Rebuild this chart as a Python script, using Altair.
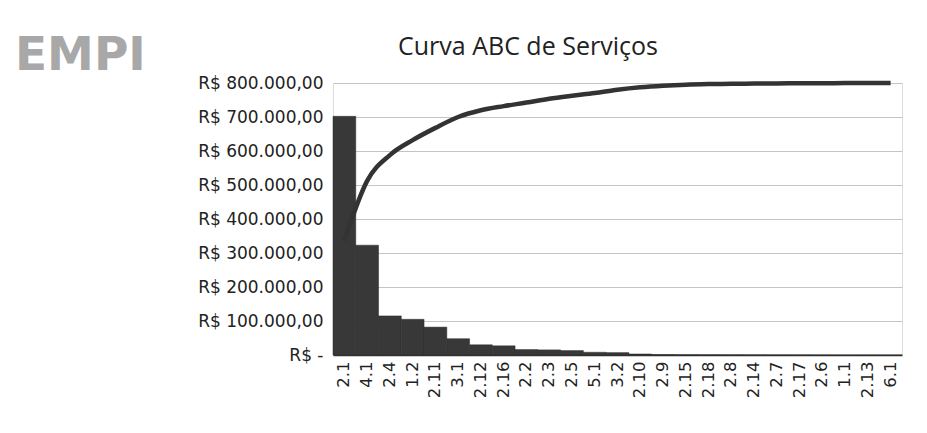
import altair as alt
import pandas as pd

categories = ["2.1", "4.1", "2.4", "1.2", "2.11", "3.1", "2.12", "2.16", "2.2", "2.3",
              "2.5", "5.1", "3.2", "2.10", "2.9", "2.15", "2.18", "2.8", "2.14", "2.7",
              "2.17", "2.6", "1.1", "2.13", "6.1"]
valores = [702000, 323000, 115000, 105000, 82000, 48000, 30000, 27000, 16000, 15000,
           13000, 8000, 7000, 3000, 1500, 1000, 800, 600, 500, 400,
           300, 200, 150, 100, 50]
acumulado_pct = [42.0, 64.0, 73.5, 79.0, 83.5, 87.5, 90.0, 91.5, 92.8, 94.2,
                 95.3, 96.3, 97.5, 98.4, 99.0, 99.4, 99.6, 99.7, 99.8, 99.85,
                 99.9, 99.93, 99.96, 99.98, 100.0]
y_ticks = [0, 100000, 200000, 300000, 400000, 500000, 600000, 700000, 800000]

df = pd.DataFrame({"servico": categories, "valor": valores, "acum": acumulado_pct})

FONT = "DejaVu Sans"
label_expr = ("datum.value == 0 ? 'R$ -' : 'R$ ' + "
              "replace(replace(replace(format(datum.value, ',.2f'), regexp(',', 'g'), '#'), "
              "regexp('[.]', 'g'), ','), regexp('#', 'g'), '.')")

x_enc = alt.X("servico:N", sort=categories, title=None,
              scale=alt.Scale(paddingInner=0, paddingOuter=0),
              axis=alt.Axis(labelAngle=-90, labelFont=FONT, labelFontSize=16.5,
                            labelColor="#222222", labelPadding=6, ticks=False,
                            domainColor="#333333", domainWidth=1.5, grid=False))

bars = alt.Chart(df).mark_bar(color="#383838", stroke="#2a2a2a", strokeWidth=0.5).encode(
    x=x_enc,
    y=alt.Y("valor:Q", title=None,
            scale=alt.Scale(domain=[0, 800000], nice=False),
            axis=alt.Axis(values=y_ticks, labelExpr=label_expr, labelFont=FONT,
                          labelFontSize=17, labelColor="#222222", labelPadding=10,
                          ticks=False, domain=False, grid=True, gridColor="#c4c4c4",
                          gridWidth=1.2))
)

line = alt.Chart(df).mark_line(color="#333333", strokeWidth=4.5, interpolate="monotone").encode(
    x=alt.X("servico:N", sort=categories),
    y=alt.Y("acum:Q", scale=alt.Scale(domain=[0, 100], nice=False), axis=None)
)

logo = alt.Chart(pd.DataFrame({"t": ["EMPI"]})).mark_text(
    font=FONT, fontSize=47, fontWeight="bold", color="#a8a8a8",
    align="left", baseline="alphabetic"
).encode(text="t:N", x=alt.value(-318), y=alt.value(-13))

chart = alt.layer(bars, line, logo).resolve_scale(y="independent").properties(
    width=569, height=272,
    padding={"left": 325, "top": 75, "right": 17, "bottom": 70},
    autosize=alt.AutoSizeParams(type="none"),
    title=alt.TitleParams("Curva ABC de Serviços", font="Open Sans", fontSize=25,
                          fontWeight="normal", color="#222222", anchor="start",
                          frame="group", dx=65, dy=50, offset=22)
).configure_view(stroke="#c0c0c0", strokeWidth=1).configure(background="white")

chart.save("out.html", embed_options={"renderer": "svg", "actions": False})
